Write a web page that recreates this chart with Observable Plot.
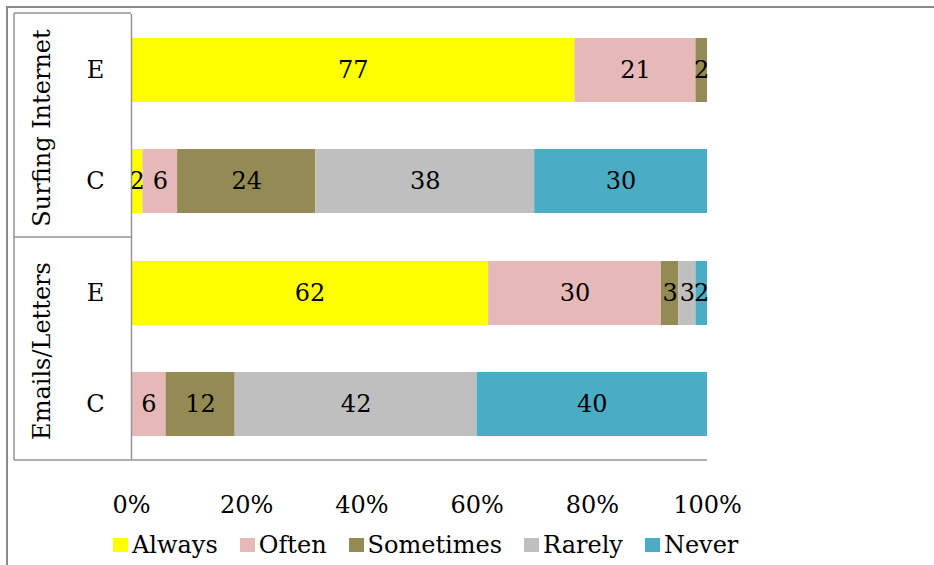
<!DOCTYPE html>
<html>
<head>
<meta charset="utf-8">
<script src="https://cdn.jsdelivr.net/npm/d3@7"></script>
<script src="https://cdn.jsdelivr.net/npm/@observablehq/plot@0.6"></script>
<style>
  html, body { margin: 0; padding: 0; background: #fff; }
  #wrap { position: relative; width: 934px; height: 565px; overflow: hidden; font-family: "DejaVu Serif", serif; }
  #border { position: absolute; left: 6px; top: 6px; width: 940px; height: 600px;
            border-top: 2px solid #8a8a8a; border-left: 2px solid #8a8a8a; }
  #chart { position: absolute; left: 0; top: 0; }
  #legend { position: absolute; left: 113px; top: 531px; display: flex; align-items: center;
            gap: 22px; font-size: 24px; line-height: 28px; color: #000; white-space: nowrap; }
  #legend .item { display: flex; align-items: center; }
  #legend .sw { width: 15px; height: 14px; margin-right: 4px; display: inline-block; }
</style>
</head>
<body>
<div id="wrap">
  <div id="border"></div>
  <div id="chart"></div>
  <div id="legend"></div>
</div>
<script>
// ---- data ----
const categories = ["Always", "Often", "Sometimes", "Rarely", "Never"];
const colors = ["#FFFF00", "#E6B9B8", "#948A54", "#BFBFBF", "#4BACC6"];
const groups = ["Surfing Internet", "Emails/Letters"];
const rowKeys = ["E", "C"];
const surfingE = [77, 21, 2, 0, 0];
const surfingC = [2, 6, 24, 38, 30];
const emailsE = [62, 30, 3, 3, 2];
const emailsC = [0, 6, 12, 42, 40];
const xTicks = [0, 20, 40, 60, 80, 100];

(function () {
  const series = [
    {group: groups[0], key: rowKeys[0], values: surfingE},
    {group: groups[0], key: rowKeys[1], values: surfingC},
    {group: groups[1], key: rowKeys[0], values: emailsE},
    {group: groups[1], key: rowKeys[1], values: emailsC}
  ];
  const table = [];
  for (const s of series) {
    s.values.forEach((v, i) => {
      if (v > 0) table.push({group: s.group, key: s.key, category: categories[i], value: v});
    });
  }

  // ---- layout ----
  const W = 934, H = 520;
  const mLeft = 131, mRight = 227, mTop = 13, mBottom = 60;
  const labelColumn = 117;
  const lineColor = "#949494";

  const plot = Plot.plot({
    width: W, height: H,
    marginLeft: mLeft, marginRight: mRight, marginTop: mTop, marginBottom: mBottom,
    style: {fontFamily: "DejaVu Serif", fontSize: "24px", background: "none", color: "#000", overflow: "visible"},
    x: {domain: [0, 100], axis: null, label: null},
    y: {domain: rowKeys, paddingInner: 0.427, paddingOuter: 0.2135, axis: null, label: null},
    fy: {domain: groups, paddingInner: 0, paddingOuter: 0, axis: null, label: null},
    color: {domain: categories, range: colors},
    marks: [
      Plot.barX(table, Plot.stackX({
        x: "value", y: "key", fy: "group", fill: "category", order: categories
      })),
      Plot.textX(table, Plot.stackX({
        x: "value", y: "key", fy: "group", z: "category", order: categories,
        text: d => String(d.value), fill: "#000", fontSize: 24
      })),
      Plot.ruleX([0], {stroke: lineColor, strokeWidth: 1.5}),
      Plot.axisX({ticks: xTicks, tickFormat: d => d + "%", tickSize: 0, tickPadding: 35,
                  fontSize: 24, fill: "#000", label: null}),
      Plot.axisY({tickSize: 0, tickPadding: 36, textAnchor: "middle", fontSize: 24, fill: "#000", label: null}),
      Plot.text(groups, {
        fy: d => d, text: d => d, frameAnchor: "left", rotate: -90,
        dx: -89, dy: 2, textAnchor: "middle", lineAnchor: "middle", fontSize: 24, fill: "#000"
      })
    ]
  });
  document.getElementById("chart").appendChild(plot);

  // category-table frame lines (Excel style), derived from scales/margins
  const svg = d3.select(plot);
  const fyScale = plot.scale("fy");
  const xs = plot.scale("x");
  const x0 = xs.apply(0), x100 = xs.apply(100);
  const xL = x0 - labelColumn;
  const yTop = mTop, yBottom = H - mBottom;
  const ySep = fyScale.apply(groups[1]);
  const g = svg.append("g").attr("stroke", lineColor).attr("stroke-width", 1.5).attr("fill", "none");
  g.append("line").attr("x1", xL).attr("x2", xL).attr("y1", yTop).attr("y2", yBottom);
  g.append("line").attr("x1", xL).attr("x2", x0).attr("y1", yTop).attr("y2", yTop);
  g.append("line").attr("x1", xL).attr("x2", x0).attr("y1", ySep).attr("y2", ySep);
  g.append("line").attr("x1", xL).attr("x2", x100).attr("y1", yBottom).attr("y2", yBottom);

  // legend
  const legend = d3.select("#legend");
  categories.forEach((c, i) => {
    const item = legend.append("div").attr("class", "item");
    item.append("span").attr("class", "sw").style("background", colors[i]);
    item.append("span").text(c);
  });
})();
</script>
</body>
</html>
